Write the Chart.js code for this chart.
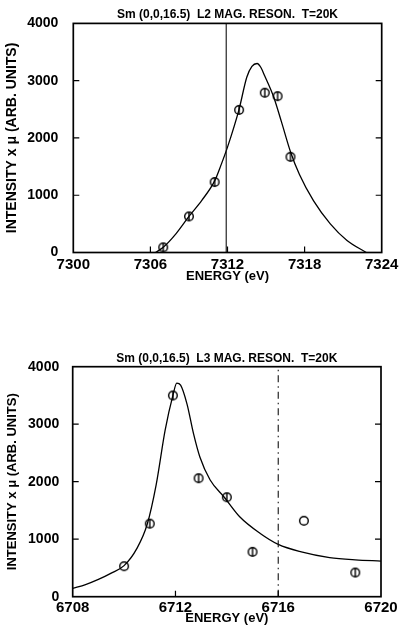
<!DOCTYPE html>
<html><head><meta charset="utf-8">
<script src="https://cdn.jsdelivr.net/npm/chart.js@4/dist/chart.umd.min.js"></script>
<style>
html,body{margin:0;padding:0;background:#fff;width:399px;height:638px;overflow:hidden;}
.box{position:absolute;left:0;width:399px;}
#b1{top:0;height:290px;}
#b2{top:320px;height:318px;}
</style></head><body>
<div class="box" id="b1"><canvas id="c1"></canvas></div>
<div class="box" id="b2"><canvas id="c2"></canvas></div>
<script>
// ---------- shared ----------
const yTicks = [0, 1000, 2000, 3000, 4000];
const yTitle = 'INTENSITY x \u03BC (ARB. UNITS)';
const xTitle = 'ENERGY (eV)';

// ---------- L2 panel ----------
const l2Title = 'Sm (0,0,16.5)  L2 MAG. RESON.  T=20K';
const l2XTicks = [7300, 7306, 7312, 7318, 7324];
const l2PointE = [7307, 7309, 7311, 7312.9, 7314.9, 7315.9, 7316.9];
const l2PointI = [90, 630, 1230, 2490, 2790, 2730, 1670];
const l2PointBar = [true, true, true, true, true, true, true];
const l2FitE = [7306.4, 7307, 7308, 7309, 7310, 7311, 7311.5, 7312, 7312.9, 7313.5, 7313.9, 7314.3, 7314.6, 7314.9, 7315.6, 7316.2, 7316.9, 7317.6, 7318.7, 7320, 7321.3, 7322.8];
const l2FitI = [0, 90, 330, 630, 910, 1250, 1530, 1840, 2500, 3060, 3250, 3300, 3230, 3080, 2710, 2280, 1760, 1360, 900, 500, 210, 0];
const l2MarkerE = 7311.9;

// ---------- L3 panel ----------
const l3Title = 'Sm (0,0,16.5)  L3 MAG. RESON.  T=20K';
const l3XTicks = [6708, 6712, 6716, 6720];
const l3PointE = [6710, 6711, 6711.9, 6712.9, 6714, 6715, 6717, 6719];
const l3PointI = [530, 1270, 3500, 2060, 1730, 780, 1320, 420];
const l3PointBar = [false, true, true, true, true, true, false, true];
const l3FitE = [6708, 6708.5, 6709, 6709.5, 6710, 6710.5, 6710.9, 6711.25, 6711.6, 6711.9, 6712.05, 6712.2, 6712.45, 6712.7, 6712.95, 6713.35, 6713.9, 6714.5, 6715.3, 6716, 6716.9, 6718, 6719, 6720];
const l3FitI = [145, 210, 300, 410, 540, 840, 1260, 1950, 2900, 3500, 3715, 3680, 3350, 2840, 2430, 2030, 1730, 1390, 1100, 910, 780, 680, 640, 620];
const l3MarkerE = 6716;

const FONT = "'Liberation Sans', Arial, Helvetica, sans-serif";

function makeMarker(bar) {
  const r = 4.3, s = 12;
  const c = document.createElement('canvas'); c.width = s; c.height = s;
  const g = c.getContext('2d');
  g.fillStyle = '#fff'; g.strokeStyle = '#000'; g.lineWidth = 1.4;
  g.beginPath(); g.arc(s / 2, s / 2, r, 0, Math.PI * 2); g.fill(); g.stroke();
  if (bar) { g.beginPath(); g.moveTo(s / 2, s / 2 - r); g.lineTo(s / 2, s / 2 + r); g.stroke(); }
  return c;
}
const mBar = makeMarker(true), mPlain = makeMarker(false);

const framePlugin = {
  id: 'frame',
  afterDatasetsDraw(chart) {
    const { ctx, chartArea: a, scales: { x, y } } = chart;
    ctx.save();
    ctx.strokeStyle = '#000';
    ctx.lineWidth = 1.7;
    ctx.strokeRect(a.left, a.top, a.right - a.left, a.bottom - a.top);
    ctx.lineWidth = 1.2;
    const L = 6;
    ctx.beginPath();
    y.ticks.forEach(t => {
      if (t.value <= y.min || t.value >= y.max) return;
      const py = y.getPixelForValue(t.value);
      ctx.moveTo(a.left, py); ctx.lineTo(a.left + L, py);
      ctx.moveTo(a.right, py); ctx.lineTo(a.right - L, py);
    });
    x.ticks.forEach(t => {
      if (t.value <= x.min || t.value >= x.max) return;
      const px = x.getPixelForValue(t.value);
      ctx.moveTo(px, a.bottom); ctx.lineTo(px, a.bottom - L);
    });
    ctx.stroke();
    ctx.restore();
  }
};

function build(id, cfg) {
  const pts = cfg.pe.map((e, i) => ({ x: e, y: cfg.pi[i] }));
  const fit = cfg.fe.map((e, i) => ({ x: e, y: cfg.fi[i] }));
  const marker = [{ x: cfg.me, y: yTicks[0] }, { x: cfg.me, y: yTicks[yTicks.length - 1] }];
  return new Chart(document.getElementById(id), {
    type: 'scatter',
    data: {
      datasets: [
        { data: marker, showLine: true, pointRadius: 0, borderColor: '#111', borderWidth: 1.1, borderDash: cfg.dash, tension: 0 },
        { data: fit, showLine: true, pointRadius: 0, borderColor: '#000', borderWidth: 1.3, cubicInterpolationMode: 'monotone' },
        { data: pts, showLine: false, pointRadius: 5, pointStyle: cfg.bars.map(b => b ? mBar : mPlain) }
      ]
    },
    options: {
      responsive: true, maintainAspectRatio: false, animation: false,
      layout: { padding: { left: 0, right: cfg.padR, top: 0, bottom: 0 } },
      plugins: {
        legend: { display: false }, tooltip: { enabled: false },
        title: {
          display: true, text: cfg.title, fullSize: false, color: '#000',
          font: { family: FONT, size: 12, weight: 'bold', lineHeight: 1.2 },
          padding: { top: cfg.tPadT, bottom: cfg.tPadB }
        }
      },
      scales: {
        x: {
          type: 'linear', position: 'bottom', min: cfg.xt[0], max: cfg.xt[cfg.xt.length - 1],
          afterBuildTicks: s => { s.ticks = cfg.xt.map(v => ({ value: v })); },
          afterFit: s => { s.height = cfg.xH; s.paddingLeft = 0; s.paddingRight = 0; },
          grid: { display: false, drawTicks: false }, border: { display: false },
          ticks: { color: '#000', padding: cfg.xtPad, maxRotation: 0, autoSkip: false, callback: v => String(v), font: { family: FONT, size: 15, weight: 'bold' } },
          title: { display: true, text: xTitle, color: '#000', font: { family: FONT, size: 13, weight: 'bold', lineHeight: 1.2 }, padding: { top: 0, bottom: cfg.xTitlePad } }
        },
        y: {
          type: 'linear', position: 'left', min: yTicks[0], max: yTicks[yTicks.length - 1],
          afterBuildTicks: s => { s.ticks = yTicks.map(v => ({ value: v })); },
          afterFit: s => { s.width = cfg.yW; },
          grid: { display: false, drawTicks: false }, border: { display: false },
          ticks: { color: '#000', padding: cfg.ytPad, autoSkip: false, callback: v => String(v), font: { family: FONT, size: 14, weight: 'bold' } },
          title: { display: true, text: yTitle, color: '#000', font: { family: FONT, size: cfg.yTitleSize, weight: 'bold', lineHeight: 1.2 }, padding: { top: cfg.yTitlePad, bottom: 0 } }
        }
      }
    },
    plugins: [framePlugin]
  });
}

build('c1', {
  pe: l2PointE, pi: l2PointI, bars: l2PointBar, fe: l2FitE, fi: l2FitI, me: l2MarkerE, dash: [],
  title: l2Title, xt: l2XTicks, padR: 17.3, tPadT: 3.8, tPadB: 1.8,
  xH: 37.5, xtPad: 3, xTitlePad: 6.2, yW: 73.3, ytPad: 15, yTitleSize: 14, yTitlePad: 3.6
});
build('c2', {
  pe: l3PointE, pi: l3PointI, bars: l3PointBar, fe: l3FitE, fi: l3FitI, me: l3MarkerE, dash: [7, 4, 1.5, 4],
  title: l3Title, xt: l3XTicks, padR: 18, tPadT: 31.6, tPadB: 0.7,
  xH: 41.3, xtPad: 2.5, xTitlePad: 12.2, yW: 72.7, ytPad: 13.5, yTitleSize: 13, yTitlePad: 5
});
</script>
</body></html>
